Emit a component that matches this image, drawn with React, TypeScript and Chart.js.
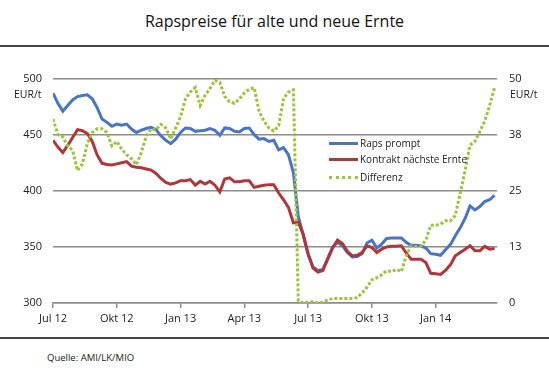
import React, { useEffect, useRef } from "react";
import { Chart, registerables } from "chart.js";

Chart.register(...registerables);

const xTickLabels = ["Jul 12", "Okt 12", "Jan 13", "Apr 13", "Jul 13", "Okt 13", "Jan 14"];
const weeksPerQuarter = 13;

const rapsPrompt = [
  487, 478, 471, 476, 481, 484, 485, 485.5, 482, 474,
  464, 461, 457.5, 459.5, 458.5, 459.5, 455, 452, 454, 455.5,
  456.5, 454.5, 449, 445, 442, 446, 452, 456, 455.5, 453,
  453.5, 454, 455.5, 454, 449.5, 456, 455.5, 453, 452.5, 455.5,
  456, 450, 446, 446.5, 444, 445, 436.5, 438.5, 432, 416,
  377, 361, 343, 332, 329, 330, 340, 350, 354, 351,
  345, 341, 341.5, 344, 353.5, 356, 349, 352.5, 357.5, 358,
  358, 358, 354, 351.5, 351.5, 351, 349, 344, 343.5, 342.5,
  347.5, 352, 360, 367, 375.5, 386.5, 383, 386, 390.5, 392,
  396,
];

const kontrakt = [
  445, 439, 434, 440.5, 447.5, 454.5, 453.5, 451, 444, 432,
  424.5, 423.5, 423, 424, 425, 426, 422, 421, 420.5, 419.5,
  418.5, 415.5, 411, 407.5, 406, 407, 409, 409, 410, 405,
  408.5, 406, 408.5, 405, 399, 410.5, 411.5, 408, 408, 409,
  409, 403, 404, 405, 405.5, 405.5, 398, 392, 385, 371.5,
  372, 361, 344, 331, 327.5, 329, 339, 349, 356, 353,
  346, 342, 342.5, 345, 351, 349.5, 345, 348, 350, 350.5,
  350.5, 351, 344.5, 339, 339, 339, 336, 326.5, 326, 325.5,
  329, 334, 342, 345, 348, 351, 346.5, 346.5, 350.5, 348,
  348.5,
];

const differenz = [
  41, 37.5, 37, 35, 34, 29.5, 31, 35.5, 38, 38.8,
  38.8, 38, 35, 36, 34.3, 33, 32.1, 30.8, 33.5, 37.2,
  38.8, 38.6, 39.8, 39, 36.5, 39, 41.5, 45.5, 47, 48,
  44, 46.3, 47.8, 49.6, 49.2, 46, 44.8, 44.5, 45.5, 46.8,
  47.6, 48, 42.8, 40.5, 39, 38.3, 39.5, 45.6, 47, 47.5,
  0.5, 0, 0.2, 0.3, 0, 0.2, 0.7, 1, 1, 1,
  1, 1, 1.2, 2.2, 3.5, 5.2, 5.6, 6.3, 7.2, 7,
  7.5, 7, 10.5, 12.7, 12.6, 12.7, 14, 17.3, 17.3, 17.6,
  18.3, 18.3, 19.5, 24.5, 29.5, 35.2, 36, 38.2, 40.5, 44,
  48,
];

const FONT = "'Open Sans', 'Noto Sans', sans-serif";
const BLUE = "#4a74c6";
const RED = "#b0363a";
const GREEN = "#9cc43c";
const GRID = "#8c8c8c";

const toXY = (arr: number[]) => arr.map((y, i) => ({ x: i, y }));

export default function App() {
  const canvasRef = useRef<HTMLCanvasElement | null>(null);

  useEffect(() => {
    document.body.style.margin = "0";
    const canvas = canvasRef.current;
    if (!canvas) return;
    const chart = new Chart(canvas, {
      type: "line",
      data: {
        datasets: [
          {
            label: "Raps prompt",
            data: toXY(rapsPrompt),
            borderColor: BLUE,
            borderWidth: 3,
            pointRadius: 0,
            yAxisID: "y",
            order: 2,
          },
          {
            label: "Kontrakt nächste Ernte",
            data: toXY(kontrakt),
            borderColor: RED,
            borderWidth: 3,
            pointRadius: 0,
            yAxisID: "y",
            order: 1,
          },
          {
            label: "Differenz",
            data: toXY(differenz),
            borderColor: GREEN,
            borderWidth: 3,
            borderDash: [3, 2],
            borderCapStyle: "butt",
            pointRadius: 0,
            yAxisID: "y2",
            order: 0,
          },
        ],
      },
      options: {
        animation: false,
        responsive: false,
        maintainAspectRatio: false,
        layout: { padding: { top: 14, left: 0, right: 0, bottom: 0 } },
        plugins: { legend: { display: false }, tooltip: { enabled: false }, title: { display: false } },
        scales: {
          x: {
            type: "linear",
            min: 0,
            max: 90.5,
            afterBuildTicks: (scale: any) => {
              scale.ticks = xTickLabels.map((_, i) => ({ value: i * weeksPerQuarter }));
            },
            afterFit: (scale: any) => {
              scale.height = 37;
            },
            grid: {
              display: true,
              drawOnChartArea: false,
              drawTicks: true,
              tickLength: 5,
              color: GRID,
              lineWidth: 1.5,
            },
            border: { display: true, color: GRID, width: 1.5 },
            ticks: {
              autoSkip: false,
              maxRotation: 0,
              padding: 4,
              color: "#222",
              font: { family: FONT, size: 11 },
              callback: (_v: any, i: number) => xTickLabels[i],
            },
          },
          y: {
            position: "left",
            min: 300,
            max: 500,
            afterFit: (scale: any) => {
              scale.width = 53;
            },
            grid: { color: GRID, lineWidth: 1.5, drawTicks: false },
            border: { display: false },
            ticks: {
              stepSize: 50,
              padding: 11,
              color: "#222",
              font: { family: FONT, size: 11 },
            },
          },
          y2: {
            position: "right",
            min: 0,
            max: 50,
            afterFit: (scale: any) => {
              scale.width = 52;
            },
            grid: { drawOnChartArea: false, drawTicks: false },
            border: { display: false },
            ticks: {
              stepSize: 12.5,
              padding: 12,
              color: "#222",
              font: { family: FONT, size: 11 },
              callback: (v: any) => String(Math.round(Number(v))),
            },
          },
        },
      },
    } as any);
    return () => chart.destroy();
  }, []);

  const text = (style: React.CSSProperties, content: string) => (
    <div style={{ position: "absolute", fontFamily: FONT, color: "#222", whiteSpace: "nowrap", lineHeight: 1, ...style }}>
      {content}
    </div>
  );

  const legendRow = (top: number, color: string, dotted: boolean, label: string) => (
    <div key={label} style={{ position: "absolute", left: 329, top: top - 7, height: 14, display: "flex", alignItems: "center" }}>
      <div
        style={{
          width: 29,
          height: 0,
          borderTop: dotted ? `3px dotted ${color}` : `3px solid ${color}`,
        }}
      />
      <div style={{ marginLeft: 2, fontFamily: FONT, fontSize: 10, color: "#222", whiteSpace: "nowrap" }}>{label}</div>
    </div>
  );

  return (
    <div style={{ position: "fixed", left: 0, top: 0, width: 549, height: 377, background: "#fff", overflow: "hidden" }}>
      {text({ left: 0, width: 549, top: 13, textAlign: "center", fontSize: 16, color: "#111" }, "Rapspreise für alte und neue Ernte")}
      <div style={{ position: "absolute", left: 0, top: 45, width: 549, height: 1.5, background: "#444" }} />
      <canvas ref={canvasRef} width={549} height={280} style={{ position: "absolute", left: 0, top: 60, width: 549, height: 280 }} />
      {text({ left: 14, top: 89, fontSize: 10.5 }, "EUR/t")}
      {text({ left: 510, top: 89, fontSize: 10.5 }, "EUR/t")}
      {legendRow(143, BLUE, false, "Raps prompt")}
      {legendRow(159, RED, false, "Kontrakt nächste Ernte")}
      {legendRow(177, GREEN, true, "Differenz")}
      <div style={{ position: "absolute", left: 0, top: 337, width: 549, height: 1.5, background: "#444" }} />
      {text({ left: 47, top: 353, fontSize: 9.5 }, "Quelle: AMI/LK/MIO")}
    </div>
  );
}
